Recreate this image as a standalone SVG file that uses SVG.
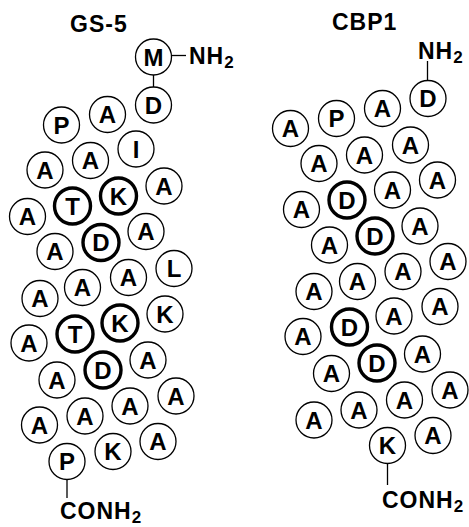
<svg xmlns="http://www.w3.org/2000/svg" width="469" height="527" viewBox="0 0 469 527">
<style>
text{font-family:"Liberation Sans",Arial,sans-serif;font-weight:bold;fill:#000}
.r circle{fill:#fff;stroke:#000;stroke-width:1.3}
.b circle{fill:#fff;stroke:#000;stroke-width:3.4}
.r text,.b text{font-size:24px;text-anchor:middle}
.lbl{font-size:23px;letter-spacing:1px}
.sub{font-size:17px;letter-spacing:0}
.conn line{stroke:#000;stroke-width:1.3}
</style>
<rect width="469" height="527" fill="#fff"/>
<g id="titles">
<text class="lbl" x="70" y="32">GS-5</text>
<text class="lbl" x="332" y="30">CBP1</text>
</g>
<g id="connectors" class="conn">
<line x1="171.5" y1="55.5" x2="186" y2="55.5"/>
<line x1="153.5" y1="75" x2="153.5" y2="87"/>
<line x1="67" y1="479.5" x2="67" y2="498"/>
<line x1="427.5" y1="61" x2="427.5" y2="80.5"/>
<line x1="387.5" y1="463.5" x2="387.5" y2="485"/>
</g>
<g id="termini">
<text class="lbl" x="189" y="64">NH<tspan class="sub" dy="4">2</tspan></text>
<text class="lbl" x="60" y="519">CONH<tspan class="sub" dy="4">2</tspan></text>
<text class="lbl" x="418" y="59">NH<tspan class="sub" dy="4">2</tspan></text>
<text class="lbl" x="382" y="508">CONH<tspan class="sub" dy="4">2</tspan></text>
</g>
<g id="gs5">
<g id="g1" class="r"><circle cx="153.5" cy="57" r="18"/><text x="153.5" y="65.5">M</text></g>
<g id="g2" class="r"><circle cx="153.5" cy="105" r="18"/><text x="153.5" y="113.5">D</text></g>
<g id="g3" class="r"><circle cx="107.5" cy="114.5" r="18"/><text x="107.5" y="123">A</text></g>
<g id="g4" class="r"><circle cx="61.5" cy="125" r="18"/><text x="61.5" y="133.5">P</text></g>
<g id="g5" class="r"><circle cx="136" cy="149" r="18"/><text x="136" y="157.5">I</text></g>
<g id="g6" class="r"><circle cx="90.5" cy="160.5" r="18"/><text x="90.5" y="169">A</text></g>
<g id="g7" class="r"><circle cx="45" cy="170" r="18"/><text x="45" y="178.5">A</text></g>
<g id="g8" class="r"><circle cx="164" cy="186" r="18"/><text x="164" y="194.5">A</text></g>
<g id="g9" class="b"><circle cx="118.5" cy="196" r="18"/><text x="118.5" y="204.5">K</text></g>
<g id="g10" class="b"><circle cx="72.5" cy="206" r="18"/><text x="72.5" y="214.5">T</text></g>
<g id="g11" class="r"><circle cx="27.5" cy="216.5" r="18"/><text x="27.5" y="225">A</text></g>
<g id="g12" class="r"><circle cx="146" cy="231.5" r="18"/><text x="146" y="240">A</text></g>
<g id="g13" class="b"><circle cx="101" cy="242.5" r="18"/><text x="101" y="251">D</text></g>
<g id="g14" class="r"><circle cx="55" cy="251.5" r="18"/><text x="55" y="260">A</text></g>
<g id="g15" class="r"><circle cx="174" cy="268.5" r="18"/><text x="174" y="277">L</text></g>
<g id="g16" class="r"><circle cx="128.5" cy="277.5" r="18"/><text x="128.5" y="286">A</text></g>
<g id="g17" class="r"><circle cx="82.5" cy="287.5" r="18"/><text x="82.5" y="296">A</text></g>
<g id="g18" class="r"><circle cx="40" cy="298.5" r="18"/><text x="40" y="307">A</text></g>
<g id="g19" class="r"><circle cx="165" cy="314" r="18"/><text x="165" y="322.5">K</text></g>
<g id="g20" class="b"><circle cx="120" cy="323" r="18"/><text x="120" y="331.5">K</text></g>
<g id="g21" class="b"><circle cx="75" cy="334" r="18"/><text x="75" y="342.5">T</text></g>
<g id="g22" class="r"><circle cx="29" cy="343" r="18"/><text x="29" y="351.5">A</text></g>
<g id="g23" class="r"><circle cx="148" cy="360" r="18"/><text x="148" y="368.5">A</text></g>
<g id="g24" class="b"><circle cx="103" cy="370" r="18"/><text x="103" y="378.5">D</text></g>
<g id="g25" class="r"><circle cx="57" cy="380" r="18"/><text x="57" y="388.5">A</text></g>
<g id="g26" class="r"><circle cx="176" cy="396" r="18"/><text x="176" y="404.5">A</text></g>
<g id="g27" class="r"><circle cx="130" cy="406" r="18"/><text x="130" y="414.5">A</text></g>
<g id="g28" class="r"><circle cx="85" cy="416" r="18"/><text x="85" y="424.5">A</text></g>
<g id="g29" class="r"><circle cx="39.5" cy="425" r="18"/><text x="39.5" y="433.5">A</text></g>
<g id="g30" class="r"><circle cx="158" cy="441.5" r="18"/><text x="158" y="450">A</text></g>
<g id="g31" class="r"><circle cx="113" cy="451.5" r="18"/><text x="113" y="460">K</text></g>
<g id="g32" class="r"><circle cx="67" cy="461.5" r="18"/><text x="67" y="470">P</text></g>
</g>
<g id="cbp1">
<g id="c1" class="r"><circle cx="428" cy="98.5" r="18"/><text x="428" y="107">D</text></g>
<g id="c2" class="r"><circle cx="382.5" cy="108.5" r="18"/><text x="382.5" y="117">A</text></g>
<g id="c3" class="r"><circle cx="336.5" cy="118.5" r="18"/><text x="336.5" y="127">P</text></g>
<g id="c4" class="r"><circle cx="290.5" cy="128.5" r="18"/><text x="290.5" y="137">A</text></g>
<g id="c5" class="r"><circle cx="410.5" cy="145" r="18"/><text x="410.5" y="153.5">A</text></g>
<g id="c6" class="r"><circle cx="364.5" cy="155" r="18"/><text x="364.5" y="163.5">A</text></g>
<g id="c7" class="r"><circle cx="319" cy="163.5" r="18"/><text x="319" y="172">A</text></g>
<g id="c8" class="r"><circle cx="437.5" cy="180" r="18"/><text x="437.5" y="188.5">A</text></g>
<g id="c9" class="r"><circle cx="392.5" cy="190" r="18"/><text x="392.5" y="198.5">A</text></g>
<g id="c10" class="b"><circle cx="347" cy="200" r="18"/><text x="347" y="208.5">D</text></g>
<g id="c11" class="r"><circle cx="301.5" cy="209.5" r="18"/><text x="301.5" y="218">A</text></g>
<g id="c12" class="r"><circle cx="420" cy="226" r="18"/><text x="420" y="234.5">A</text></g>
<g id="c13" class="b"><circle cx="375" cy="236" r="18"/><text x="375" y="244.5">D</text></g>
<g id="c14" class="r"><circle cx="329.5" cy="245" r="18"/><text x="329.5" y="253.5">A</text></g>
<g id="c15" class="r"><circle cx="448" cy="261.5" r="18"/><text x="448" y="270">A</text></g>
<g id="c16" class="r"><circle cx="403" cy="271.5" r="18"/><text x="403" y="280">A</text></g>
<g id="c17" class="r"><circle cx="357.5" cy="281.5" r="18"/><text x="357.5" y="290">A</text></g>
<g id="c18" class="r"><circle cx="314" cy="291.5" r="18"/><text x="314" y="300">A</text></g>
<g id="c19" class="r"><circle cx="440" cy="306.5" r="18"/><text x="440" y="315">A</text></g>
<g id="c20" class="r"><circle cx="394" cy="316" r="18"/><text x="394" y="324.5">A</text></g>
<g id="c21" class="b"><circle cx="349.5" cy="327" r="18"/><text x="349.5" y="335.5">D</text></g>
<g id="c22" class="r"><circle cx="303" cy="336.5" r="18"/><text x="303" y="345">A</text></g>
<g id="c23" class="r"><circle cx="422.5" cy="354" r="18"/><text x="422.5" y="362.5">A</text></g>
<g id="c24" class="b"><circle cx="377" cy="363" r="18"/><text x="377" y="371.5">D</text></g>
<g id="c25" class="r"><circle cx="331.5" cy="373.5" r="18"/><text x="331.5" y="382">A</text></g>
<g id="c26" class="r"><circle cx="450" cy="390" r="18"/><text x="450" y="398.5">A</text></g>
<g id="c27" class="r"><circle cx="404.5" cy="400" r="18"/><text x="404.5" y="408.5">A</text></g>
<g id="c28" class="r"><circle cx="359" cy="410" r="18"/><text x="359" y="418.5">A</text></g>
<g id="c29" class="r"><circle cx="314" cy="420" r="18"/><text x="314" y="428.5">A</text></g>
<g id="c30" class="r"><circle cx="433" cy="435.5" r="18"/><text x="433" y="444">A</text></g>
<g id="c31" class="r"><circle cx="387.5" cy="445.5" r="18"/><text x="387.5" y="454">K</text></g>
</g>
</svg>
